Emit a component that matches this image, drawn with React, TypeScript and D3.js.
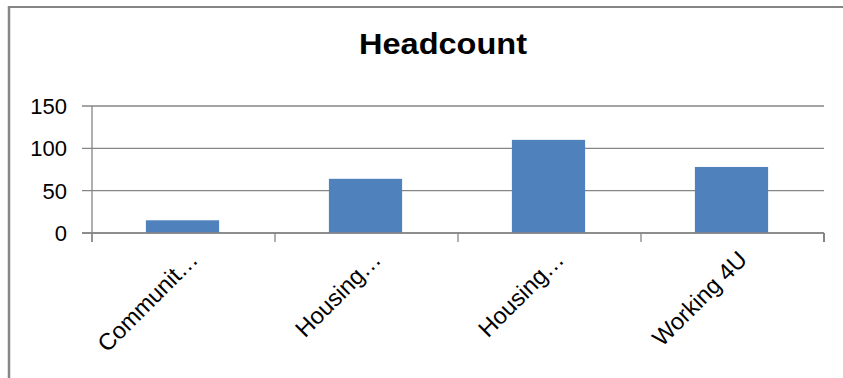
import React from "react";
import * as d3 from "d3";

const title = "Headcount";
const categories = ["Communit…", "Housing…", "Housing… ", "Working 4U"];
const values = [15, 64, 110, 78];
const yTicks = [0, 50, 100, 150];

const W = 843;
const H = 378;
const M = { left: 92, right: 824, top: 106, bottom: 233 };
const GRID = "#868686";
const BAR = "#4F81BD";
const FONT = "'Liberation Sans', Arial, sans-serif";

export default function App() {
  const x = d3.scaleBand<string>().domain(categories).range([M.left, M.right]).padding(0);
  const y = d3.scaleLinear().domain([0, 150]).range([M.bottom, M.top]);
  const bw = x.bandwidth() * 0.4;
  const edges = categories.map((c) => x(c) as number).concat([M.right]);

  return (
    <svg
      width={W}
      height={H}
      style={{ position: "absolute", left: 0, top: 0, background: "#fff" }}
      fontFamily={FONT}
    >
      {/* outer frame */}
      <line x1={9} x2={W} y1={7} y2={7} stroke={GRID} strokeWidth={2} />
      <line x1={9} x2={9} y1={6} y2={H} stroke={GRID} strokeWidth={2.5} />

      <text
        x={443}
        y={54}
        textAnchor="middle"
        fontSize={29}
        fontWeight="bold"
        textLength={168}
        lengthAdjust="spacingAndGlyphs"
        fill="#000"
      >
        {title}
      </text>

      {/* gridlines + y ticks */}
      {yTicks.map((t) => (
        <g key={t}>
          <line x1={M.left - 10} x2={M.right} y1={y(t)} y2={y(t)} stroke={GRID} strokeWidth={1.3} />
          <text x={67} y={y(t)} dy="0.36em" textAnchor="end" fontSize={22} fill="#000">
            {t}
          </text>
        </g>
      ))}

      {/* bars */}
      {categories.map((c, i) => (
        <rect
          key={c}
          x={(x(c) as number) + (x.bandwidth() - bw) / 2 - 1}
          y={y(values[i])}
          width={bw}
          height={y(0) - y(values[i])}
          fill={BAR}
        />
      ))}

      {/* axes */}
      <line x1={M.left} x2={M.left} y1={M.top} y2={M.bottom + 9} stroke={GRID} strokeWidth={1.3} />
      <line x1={M.left - 10} x2={M.right} y1={M.bottom} y2={M.bottom} stroke={GRID} strokeWidth={1.3} />
      {edges.map((e, i) => (
        <line key={i} x1={e} x2={e} y1={M.bottom} y2={M.bottom + 9} stroke={GRID} strokeWidth={i === edges.length - 1 ? 2 : 1.3} />
      ))}

      {/* category labels */}
      {categories.map((c) => {
        const cx = (x(c) as number) + x.bandwidth() / 2;
        return (
          <text
            key={c}
            transform={`translate(${cx + 16},${M.bottom + 28}) rotate(-45)`}
            textAnchor="end"
            fontSize={23.5}
            fill="#000"
          >
            {c.trim()}
          </text>
        );
      })}
    </svg>
  );
}
